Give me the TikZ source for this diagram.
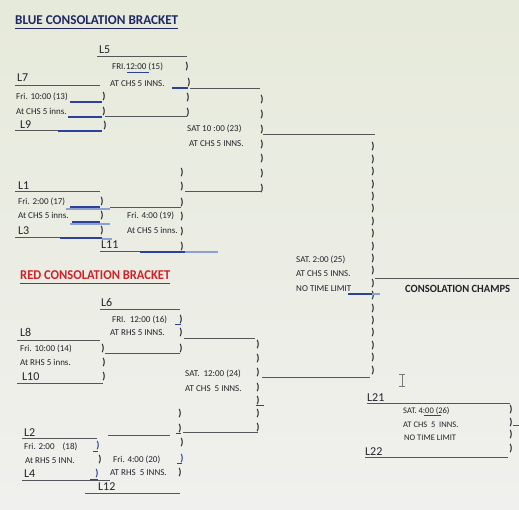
\documentclass[tikz,border=0pt]{standalone}
\usepackage{fontspec}
\usepackage{graphicx}
\setmainfont{Carlito}
\definecolor{txtc}{RGB}{35,35,42}
\definecolor{linec}{RGB}{85,85,90}
\definecolor{bluec}{RGB}{45,65,150}
\definecolor{lbluec}{RGB}{140,160,210}
\definecolor{navy}{RGB}{30,40,100}
\definecolor{redc}{RGB}{205,35,40}
\definecolor{bgtop}{RGB}{230,234,218}
\definecolor{bgbot}{RGB}{240,240,238}
\begin{document}
\begin{tikzpicture}[x=1pt,y=-1pt,
  txt/.style={anchor=base west, inner sep=0pt, font=\fontsize{9}{10}\selectfont, text=txtc},
  stxt/.style={anchor=base west, inner sep=0pt, font=\fontsize{8.5}{10}\selectfont, text=txtc},
  lab/.style={anchor=base west, inner sep=0pt, font=\fontsize{12}{13}\selectfont, text=txtc},
  par/.style={anchor=base, inner sep=0pt, font=\bfseries\fontsize{10}{11}\selectfont, text=txtc},
  bpar/.style={par, text=bluec},
  ttl/.style={anchor=base west, inner sep=0pt, font=\bfseries\fontsize{13.5}{15}\selectfont},
  ln/.style={draw=linec, line width=1pt},
  bl/.style={draw=bluec, line width=1.5pt},
  lbl/.style={draw=lbluec, line width=1.5pt},
]
\shade[top color=bgtop, bottom color=bgbot] (0,0) rectangle (519,510);
\useasboundingbox (0,0) rectangle (519,510);

% ---------------- BLUE ----------------
\node[ttl, text=navy] (bt) at (15,25) {\resizebox{163pt}{\height}{BLUE\ CONSOLATION\ BRACKET}};
\draw[draw=navy, line width=1.2pt] (bt.south west) ++(0,3) -- ++(163,0);

\node[lab] (l5) at (99,54) {L5};
\draw[ln] (97,57) -- (187,57);
\node[txt] (f15) at (112,70) {FRI.12:00 (15)};
\draw[draw=bluec, line width=0.8pt] (127,72) -- (149,72);
\node[par] (pa1) at (187,70) {)};
\node[lab] (l7) at (17,82) {L7};
\draw[ln] (15,86) -- (100,86);
\node[txt] (a15) at (110,87) {AT CHS 5 INNS.};
\draw[bl] (172,88) -- (188,88);
\node[par] (pa2) at (189,86) {)};
\draw[ln] (190,89) -- (260,89);
\node[txt] (f13) at (16,100) {Fri. 10:00 (13)};
\draw[bl] (70,102) -- (102,102);
\node[par] (pa3) at (104,100) {)};
\node[par] (pa4) at (188,101) {)};
\node[txt] (a13) at (16,115) {At CHS 5 inns.};
\draw[bl] (68,117) -- (102,117);
\node[par] (pa5) at (104,115) {)};
\draw[ln] (105,117) -- (187,117);
\node[par] (pa6) at (188,116) {)};
\node[lab] (l9) at (20,129) {L9};
\draw[ln] (15,131) -- (58,131);
\draw[bl] (58,131) -- (102,131);
\node[par] (pa7) at (105,129) {)};

\node[txt] (s23) at (187,132) {SAT 10 :00 (23)};
\node[txt] (a23) at (189,147) {AT CHS 5 INNS.};
\foreach \k in {0,...,6} \node[par] (pb\k) at (262,{103+14.67*\k}) {)};
\draw[ln] (263,135) -- (375,135);
\draw[ln] (185,192) -- (262,192);

\foreach \yy/\k in {176/0,190/1,206/2,220/3,235/4,250/5} \node[par] (pc\k) at (182,\yy) {)};
\node[lab] (l1) at (18,190) {L1};
\draw[ln] (15,192) -- (100,192);
\node[txt] (f17) at (18,205) {Fri. 2:00 (17)};
\draw[lbl] (66,209) -- (110,209);
\draw[bl] (70,207) -- (100,207);
\node[par] (pd1) at (102,205) {)};
\draw[ln] (110,208) -- (181,208);
\node[txt] (a17) at (18,219) {At CHS 5 inns.};
\draw[lbl] (70,224) -- (110,224);
\draw[bl] (72,222) -- (100,222);
\node[par] (pd2) at (102,219) {)};
\node[txt] (f19) at (127,219) {Fri. 4:00 (19)};
\node[lab] (l3) at (18,235) {L3};
\draw[ln] (15,238) -- (60,238);
\draw[bl] (60,238) -- (102,238);
\draw[lbl] (102,239) -- (112,239);
\node[par] (pd3) at (102,234) {)};
\node[txt] (a19) at (127,234) {At CHS 5 inns.};
\node[lab] (l11) at (101,249) {L11};
\draw[ln] (100,252) -- (140,252);
\draw[bl] (140,252) -- (185,252);
\draw[lbl] (185,252) -- (218,252);

% ---------------- FINAL COLUMN ----------------
\foreach \k in {0,...,18} \node[par] (pe\k) at (373,{150+12.39*\k}) {)};
\draw[ln] (375,279) -- (519,279);
\node[txt] (s25) at (296,263) {SAT. 2:00 (25)};
\node[txt] (a25) at (296,277) {AT CHS 5 INNS.};
\node[txt] (n25) at (296,292) {NO TIME LIMIT};
\draw[bl] (348,294) -- (372,294);
\draw[lbl] (372,294) -- (380,294);
\node[anchor=base west, inner sep=0pt, font=\bfseries\fontsize{11}{12}\selectfont, text=txtc] (champ) at (405,293) {\resizebox{105pt}{\height}{CONSOLATION\ CHAMPS}};

% ---------------- RED ----------------
\node[ttl, text=redc] (rt) at (20,280) {\resizebox{150pt}{\height}{RED\ CONSOLATION\ BRACKET}};
\draw[draw=redc!70!navy, line width=1.2pt] (rt.south west) ++(0,3) -- ++(150,0);

\node[lab] (l6) at (101,307) {L6};
\draw[ln] (100,310) -- (180,310);
\node[txt] (f16) at (112,323) {FRI.\ \ 12:00 (16)};
\draw[draw=bluec, line width=1pt] (175,325) -- (181,325);
\node[par] (pf1) at (181,323) {)};
\node[lab] (l8) at (20,337) {L8};
\draw[ln] (17,340) -- (100,340);
\node[txt] (a16) at (110,336) {AT RHS 5 INNS.};
\node[par] (pf2) at (181,336) {)};
\draw[ln] (184,338) -- (255,338);
\node[txt] (f14) at (20,351) {Fri. 10:00 (14)};
\node[par] (pf3) at (103,351) {)};
\node[par] (pf4) at (181,351) {)};
\draw[ln] (105,353) -- (180,353);
\node[txt] (a14) at (20,365) {At RHS 5 inns.};
\node[par] (pf5) at (104,365) {)};
\node[lab] (l10) at (22,380) {L10};
\draw[ln] (17,383) -- (103,383);
\node[par] (pf6) at (104,379) {)};

\foreach \yy/\k in {348/0,361/1,375/2,390/3,403/4,416/5,430/6} \node[par] (pg\k) at (258,\yy) {)};
\draw[draw=bluec, line width=1pt] (256,405) -- (264,405);
\draw[ln] (262,377) -- (370,377);
\node[txt] (s24) at (185,376) {SAT.\ \ 12:00 (24)};
\node[txt] (a24) at (185,391) {AT CHS\ \ 5 INNS.};
\node[par] (ph1) at (180,416) {)};
\node[par] (ph2) at (180,431) {)};
\draw[draw=bluec, line width=1pt] (176,433) -- (181,433);
\draw[ln] (183,432) -- (258,432);
\draw[ln] (108,435) -- (170,435);

\node[lab] (l2) at (24,436) {L2};
\draw[ln] (22,438) -- (97,438);
\node[txt] (f18) at (24,449) {Fri. 2:00\ \ \ \ (18)};
\node[bpar] (pi1) at (98,448) {)};
\draw[draw=bluec, line width=1pt] (93,451) -- (98,451);
\node[par] (pi2) at (182,445) {)};
\node[txt] (a18) at (25,463) {At RHS 5 INN.};
\node[par] (pi3) at (100,462) {)};
\node[txt] (f20) at (113,462) {Fri. 4:00 (20)};
\node[bpar] (pi4) at (182,461) {)};
\draw[draw=bluec, line width=1pt] (177,463) -- (182,463);
\node[lab] (l4) at (24,477) {L4};
\draw[ln] (22,480) -- (110,480);
\node[bpar] (pi5) at (97,476) {)};
\draw[draw=bluec, line width=1pt] (90,479) -- (98,479);
\node[txt] (a20) at (110,475) {AT RHS\ \ 5 INNS.};
\node[par] (pi6) at (180,475) {)};
\node[lab] (l12) at (98,490) {L12};
\draw[ln] (85,493) -- (180,493);

% ---------------- L21 / L22 ----------------
\node[lab] (l21) at (367,401) {L21};
\draw[ln] (367,403) -- (510,403);
\node[stxt] (s26) at (403,413) {SAT. 4:00 (26)};
\draw[draw=bluec, line width=0.8pt] (424,415) -- (441,415);
\node[stxt] (a26) at (403,427) {AT CHS\ \ 5\ \ INNS.};
\node[stxt] (n26) at (404,440) {NO TIME LIMIT};
\foreach \yy/\k in {412/0,425/1,437/2,451/3} \node[par] (pj\k) at (511,\yy) {)};
\draw[ln] (513,425) -- (519,425);
\node[lab] (l22) at (365,455) {L22};
\draw[ln] (365,457) -- (508,457);

% text cursor
\coordinate (ct) at (402,374);
\coordinate (cb) at (402,386);
\draw[draw=linec!80, line width=0.7pt] (ct) -- (cb) (399,374) -- (405,374) (399,386) -- (405,386);
\end{tikzpicture}
\end{document}
